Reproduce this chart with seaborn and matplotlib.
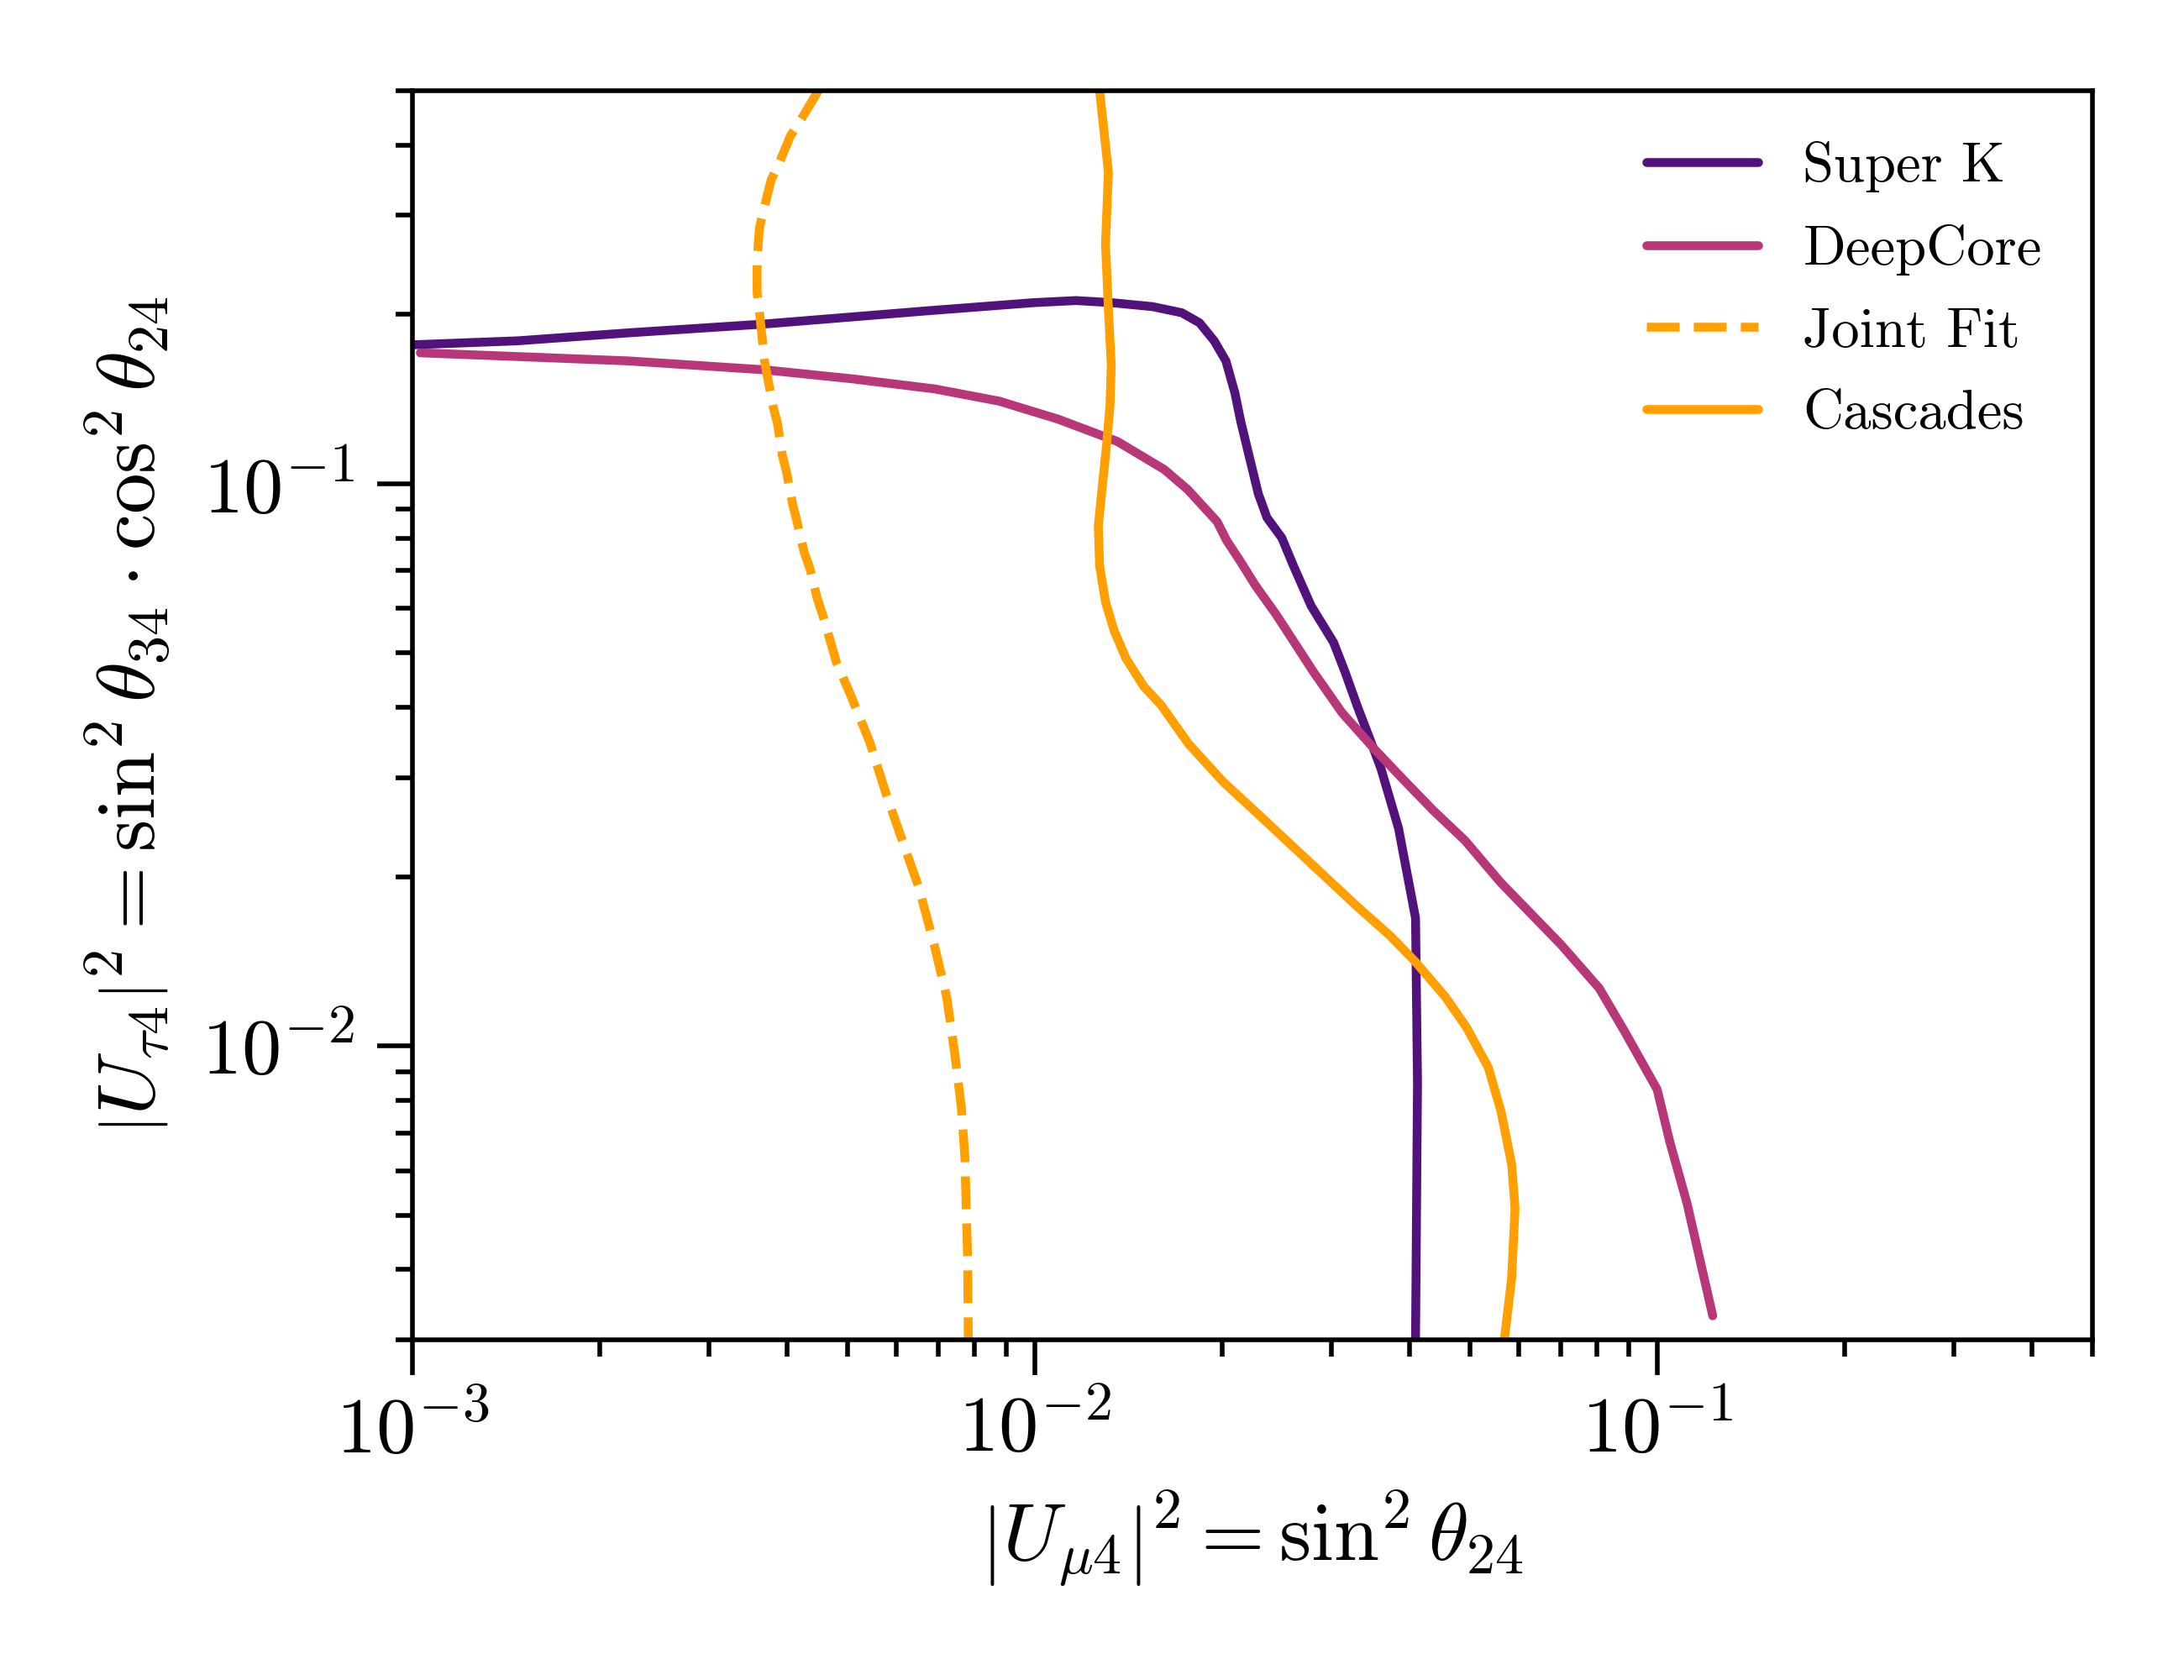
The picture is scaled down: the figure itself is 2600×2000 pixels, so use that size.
import numpy as np
import pandas as pd
import matplotlib
matplotlib.use("Agg")
import matplotlib.pyplot as plt
import matplotlib.ticker as mticker
import seaborn as sns

# ---- data ----
superk_x = [1.0e-3, 1.475e-3, 2.23e-3, 3.68e-3, 6.76e-3, 9.97e-3, 1.165e-2, 1.327e-2,
            1.546e-2, 1.722e-2, 1.839e-2, 1.942e-2, 2.028e-2, 2.097e-2, 2.142e-2,
            2.213e-2, 2.286e-2, 2.361e-2, 2.494e-2, 2.604e-2, 2.780e-2, 3.020e-2,
            3.15e-2, 3.30e-2, 3.49e-2, 3.60e-2, 3.84e-2, 4.09e-2, 4.12e-2, 4.09e-2]
superk_y = [0.1766, 0.1795, 0.1855, 0.1923, 0.2031, 0.2099, 0.2117, 0.2099,
            0.2065, 0.2014, 0.1933, 0.1795, 0.1653, 0.1449, 0.1292,
            0.1113, 0.0960, 0.0870, 0.0801, 0.0714, 0.0606, 0.0522,
            0.0463, 0.0401, 0.0341, 0.0311, 0.0244, 0.01688, 0.00859, 0.003]

deepcore_x = [1.03e-3, 1.54e-3, 2.23e-3, 3.68e-3, 5.10e-3, 6.91e-3, 8.77e-3, 1.091e-2,
              1.357e-2, 1.614e-2, 1.761e-2, 1.963e-2, 2.034e-2, 2.142e-2, 2.262e-2,
              2.440e-2, 2.609e-2, 2.802e-2, 3.118e-2, 3.532e-2, 3.928e-2, 4.371e-2,
              4.909e-2, 5.61e-2, 7.00e-2, 8.07e-2, 8.88e-2, 0.1000, 0.1048, 0.1117, 0.1228]
deepcore_y = [0.1709, 0.1680, 0.1653, 0.1594, 0.1536, 0.1474, 0.1402, 0.1302,
              0.1189, 0.1060, 0.0976, 0.0856, 0.0792, 0.0726, 0.0659,
              0.0586, 0.0523, 0.0463, 0.0391, 0.0335, 0.0296, 0.0262,
              0.0232, 0.0195, 0.01515, 0.01266, 0.01057, 0.00836, 0.00674, 0.00524, 0.00331]

joint_x = [4.49e-3, 4.19e-3, 4.05e-3, 3.88e-3, 3.77e-3, 3.66e-3, 3.61e-3, 3.58e-3,
           3.58e-3, 3.61e-3, 3.64e-3, 3.68e-3, 3.72e-3, 3.80e-3, 3.86e-3, 3.93e-3,
           3.99e-3, 4.08e-3, 4.15e-3, 4.26e-3, 4.36e-3, 4.47e-3, 4.57e-3, 4.72e-3,
           4.80e-3, 5.05e-3, 5.43e-3, 5.78e-3, 6.15e-3, 6.51e-3, 6.89e-3, 7.22e-3,
           7.44e-3, 7.62e-3, 7.72e-3, 7.76e-3, 7.80e-3, 7.82e-3]
joint_y = [0.500, 0.440, 0.4156, 0.3704, 0.3468, 0.3040, 0.2846, 0.2495,
           0.2187, 0.2031, 0.1855, 0.1653, 0.1548, 0.1368, 0.1281, 0.1123,
           0.1051, 0.0922, 0.0856, 0.0756, 0.0702, 0.0626, 0.0581, 0.0514,
           0.0481, 0.0423, 0.0347, 0.0279, 0.0229, 0.01915, 0.01516, 0.01221,
           0.00966, 0.00778, 0.00638, 0.00514, 0.00422, 0.003]

casc_x = [1.271e-2, 1.313e-2, 1.299e-2, 1.313e-2, 1.327e-2, 1.321e-2, 1.304e-2,
          1.284e-2, 1.265e-2, 1.271e-2, 1.299e-2, 1.341e-2, 1.401e-2, 1.496e-2,
          1.595e-2, 1.768e-2, 2.007e-2, 2.314e-2, 2.754e-2, 3.277e-2, 3.720e-2,
          4.090e-2, 4.570e-2, 4.945e-2, 5.354e-2, 5.612e-2, 5.836e-2, 5.910e-2,
          5.836e-2, 5.680e-2]
casc_y = [0.500, 0.3584, 0.2666, 0.2047, 0.1626, 0.1379, 0.1170,
          0.0992, 0.0842, 0.0714, 0.0616, 0.0548, 0.0489, 0.0436,
          0.0404, 0.0344, 0.0295, 0.0255, 0.0213, 0.0178, 0.01571,
          0.01410, 0.01221, 0.01076, 0.00915, 0.00764, 0.00616, 0.00514,
          0.00386, 0.003]

labels = ["Super K", "DeepCore", "Joint Fit", "Cascades"]
colors = ["#51127c", "#b73779", "#ffa000", "#ffa000"]

# ---- style ----
sns.set_style("ticks")
plt.rcParams.update({
    "font.family": ["cmr10", "DejaVu Serif"],
    "mathtext.fontset": "cm",
    "axes.formatter.use_mathtext": True,
    "axes.linewidth": 1.0,
    "axes.edgecolor": "black",
    "axes.labelcolor": "black",
    "text.color": "black",
    "xtick.color": "black",
    "ytick.color": "black",
    "xtick.direction": "out",
    "ytick.direction": "out",
    "xtick.major.size": 7.5,
    "ytick.major.size": 7.5,
    "xtick.minor.size": 3.6,
    "ytick.minor.size": 3.6,
    "xtick.major.width": 1.0,
    "ytick.major.width": 1.0,
    "xtick.minor.width": 1.0,
    "ytick.minor.width": 1.0,
})

fig = plt.figure(figsize=(6.5, 5), dpi=400)
ax = fig.add_axes([0.1888, 0.2025, 0.7692, 0.7435])

series = [(superk_x, superk_y, "-"), (deepcore_x, deepcore_y, "-"),
          (joint_x, joint_y, "--"), (casc_x, casc_y, "-")]
for (xs, ys, ls), lab, col in zip(series, labels, colors):
    sns.lineplot(x=np.array(xs), y=np.array(ys), sort=False, estimator=None,
                 ax=ax, color=col, linewidth=1.9, linestyle=ls, label=lab)

ax.set_xscale("log")
ax.set_yscale("log")
ax.set_xlim(1e-3, 0.5)
ax.set_ylim(3e-3, 0.5)

ax.xaxis.set_major_locator(mticker.LogLocator(base=10))
ax.yaxis.set_major_locator(mticker.LogLocator(base=10))
ax.xaxis.set_minor_locator(mticker.LogLocator(base=10, subs=np.arange(2, 10)))
ax.yaxis.set_minor_locator(mticker.LogLocator(base=10, subs=np.arange(2, 10)))
ax.xaxis.set_minor_formatter(mticker.NullFormatter())
ax.yaxis.set_minor_formatter(mticker.NullFormatter())
ax.tick_params(axis="x", which="major", labelsize=17, pad=4)
ax.tick_params(axis="y", which="major", labelsize=17, pad=5)

ax.set_xlabel(r"$\left|U_{\mu 4}\right|^2 = \sin^2\theta_{24}$", fontsize=17.5, labelpad=4.5)
ax.set_ylabel(r"$\left|U_{\tau 4}\right|^2 = \sin^2\theta_{34}\cdot\cos^2\theta_{24}$",
              fontsize=17.5, labelpad=6)

ax.legend(loc="upper right", frameon=False, fontsize=12, handlelength=2.0,
          labelspacing=0.57)

fig.savefig("out.png", dpi=400)
